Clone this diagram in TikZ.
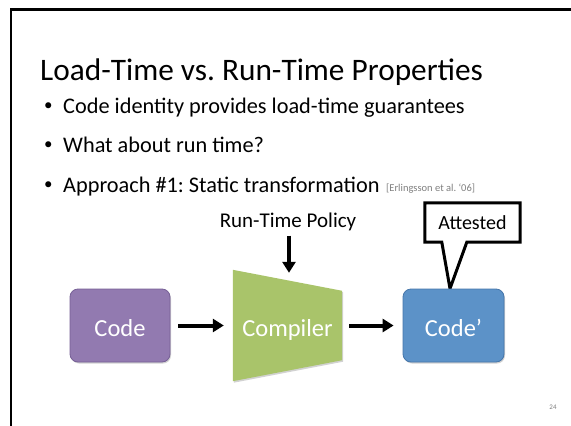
\documentclass[tikz,border=0pt]{standalone}
\usepackage{fontspec}
\setmainfont{Carlito}
\usetikzlibrary{arrows.meta,shadows,backgrounds,calc}
\frenchspacing

\definecolor{codepurple}{RGB}{146,122,176}
\definecolor{codepurpleline}{RGB}{118,96,150}
\definecolor{compgreen}{RGB}{169,196,106}
\definecolor{codeblue}{RGB}{92,146,200}
\definecolor{codeblueline}{RGB}{70,118,170}
\definecolor{citegray}{RGB}{128,128,128}

\newcommand{\slidebullet}{\makebox[19pt][l]{\raisebox{2.4pt}{\fontsize{17}{17}\selectfont •}}}

\tikzset{
  txt/.style={anchor=base west, inner sep=0pt},
  bulletline/.style={txt, font=\fontsize{22.3}{28}\selectfont},
  blocktext/.style={inner sep=0pt, text=white, font=\fontsize{24.5}{30}\selectfont,
    text height=21pt, text depth=0pt},
  block/.style={blocktext, rounded corners=8pt, minimum width=100pt, minimum height=73pt,
    drop shadow={shadow xshift=1pt, shadow yshift=-1.5pt, opacity=0.35}},
  arr/.style={line width=4pt, -{Triangle[length=11pt,width=13pt]}},
}

\begin{document}
\begin{tikzpicture}[x=1pt, y=-1pt]
\useasboundingbox (0,0) rectangle (571,426);
\begin{scope}[on background layer]
  \fill[white] (0,0) rectangle (571,426);
\end{scope}

% slide frame
\draw[line width=2.5pt] (11,426) -- (11,9.5) -- (571,9.5);

% title and bullets
\node[txt, font=\fontsize{31.3}{36}\selectfont] (title) at (40,80)
  {Load-Time vs. Run-Time Properties};
\node[bulletline] (b1) at (44,113) {\slidebullet Code identity provides load-time guarantees};
\node[bulletline] (b2) at (44,152) {\slidebullet What about run time?};
\node[bulletline] (b3) at (44,192) {\slidebullet Approach \#1: Static transformation};
\node[txt, text=citegray, font=\fontsize{10.5}{12}\selectfont] (cite) at (386,191)
  {[Erlingsson et al. ‘06]};

% pipeline
\node[block, fill=codepurple, draw=codepurpleline, line width=0.8pt] (code) at (120,325.5) {Code};
\node[blocktext, minimum width=109pt, minimum height=111pt] (comp) at (287.5,325.5) {Compiler};
\begin{scope}[on background layer]
  \fill[compgreen, drop shadow={shadow xshift=1pt, shadow yshift=-1.5pt, opacity=0.35}]
    (comp.north west) -- ($(comp.north east)+(0,21)$)
    -- ($(comp.south east)+(0,-21)$) -- (comp.south west) -- cycle;
\end{scope}
\node[block, minimum width=101pt, fill=codeblue, draw=codeblueline, line width=0.8pt] (codep) at (453.5,325.5) {Code’};

\node[anchor=base, inner sep=0pt, font=\fontsize{21}{25}\selectfont] (policy) at (288,227) {Run-Time Policy};

\draw[arr, shorten <=5pt, shorten >=-3pt] ([xshift=1pt]policy.south) -- ([xshift=1pt]policy.south |- comp.north);
\draw[arr, shorten <=8pt, shorten >=9pt] (code.east) -- (comp.west);
\draw[arr, shorten <=7pt, shorten >=9pt] (comp.east) -- (codep.west);

% callout attached to the output block
\node[minimum width=95pt, minimum height=39pt, inner sep=0pt,
      font=\fontsize{20}{24}\selectfont] (att) at (472.5,222.5) {Attested};
\coordinate (tip) at ($(codep.north)+(-3.5,0)$);
\begin{scope}[on background layer]
  \filldraw[fill=white, draw=black, line width=3pt, line join=miter]
    (att.north west) -- (att.north east) -- (att.south east)
    -- ($(att.south west)+(42,0)$) -- (tip) -- ($(att.south west)+(17,0)$)
    -- (att.south west) -- cycle;
\end{scope}

% slide number
\node[anchor=base, inner sep=0pt, text=citegray, font=\fontsize{7}{8}\selectfont] (num) at (553,409) {24};
\end{tikzpicture}
\end{document}
